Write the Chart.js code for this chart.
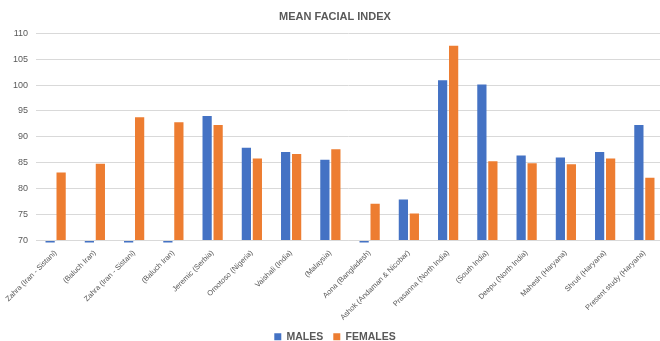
<!DOCTYPE html>
<html>
<head>
<meta charset="utf-8">
<script src="https://cdn.jsdelivr.net/npm/chart.js@4.4.1/dist/chart.umd.min.js"></script>
<style>
  html, body { margin: 0; padding: 0; background: #fff; }
  #wrap { width: 660px; height: 341px; }
</style>
</head>
<body>
<div id="wrap"><canvas id="c"></canvas></div>
<script>
// Studies compared (x categories)
const studies = [
  'Zahra (Iran - Sistani)', '(Baluch Iran)', 'Zahra (Iran - Sistani)', '(Baluch Iran)',
  'Jeremic (Serbia)', 'Omotoso (Nigeria)', 'Vaishali (India)', '(Malaysia)',
  'Aona (Bangladesh)', 'Ashok (Andaman & Nicobar)', 'Prasanna (North India)', '(South India)',
  'Deepu (North India)', 'Mahesh (Haryana)', 'Shruti (Haryana)', 'Present study (Haryana)'
];

// Mean facial index by sex (0 = not reported)
const males = [0, 0, 0, 0, 94.0, 87.9, 87.1, 85.6, 0, 77.9, 100.9, 100.1, 86.4, 86.0, 87.1, 92.3];
const females = [83.1, 84.8, 93.8, 92.8, 92.3, 85.8, 86.7, 87.6, 77.1, 75.2, 107.6, 85.3, 84.9, 84.7, 85.8, 82.1];

// Value axis range and step
const yMin = 70;
const yMax = 110;
const yStep = 5;

const grey = '#595959';
const gridGrey = '#d9d9d9';
const fontFamily = "'Liberation Sans', 'DejaVu Sans', sans-serif";

// Bars grow from the axis floor; values under it show as a thin sliver
const barClip = { left: false, right: false, top: false, bottom: 2 };

// Let the plot area run a few pixels past the right edge of the canvas
const plotOverhang = {
  id: 'plotOverhang',
  afterLayout(chart) {
    const extra = 4;
    chart.chartArea.right += extra;
    chart.chartArea.width += extra;
    const x = chart.scales.x;
    x.right += extra;
    x.width += extra;
    x.configure();
  }
};

new Chart(document.getElementById('c'), {
  type: 'bar',
  data: {
    labels: studies,
    datasets: [
      { label: 'MALES', data: males, backgroundColor: '#4472C4', base: yMin, clip: barClip },
      { label: 'FEMALES', data: females, backgroundColor: '#ED7D31', base: yMin, clip: barClip }
    ]
  },
  plugins: [plotOverhang],
  options: {
    responsive: true,
    maintainAspectRatio: false,
    animation: false,
    devicePixelRatio: 1,
    categoryPercentage: 0.56,
    barPercentage: 0.84,
    layout: { padding: { left: 10, right: 0, top: 0, bottom: -11 } },
    plugins: {
      title: {
        display: true,
        text: 'MEAN FACIAL INDEX',
        color: grey,
        font: { family: fontFamily, size: 11, weight: 'bold' },
        padding: { top: 10, bottom: 10 }
      },
      legend: {
        position: 'bottom',
        labels: {
          color: grey,
          font: { family: fontFamily, size: 10.5, weight: 'bold' },
          boxWidth: 7,
          boxHeight: 7,
          padding: 10
        }
      },
      tooltip: { enabled: false }
    },
    scales: {
      x: {
        grid: { display: false },
        border: { color: gridGrey },
        ticks: {
          color: grey,
          font: { family: fontFamily, size: 7.5 },
          autoSkip: false,
          maxRotation: 45,
          minRotation: 45,
          padding: 0
        },
        afterFit: (scale) => { scale.height = 81; }
      },
      y: {
        min: yMin,
        max: yMax,
        grid: { color: gridGrey, drawTicks: false },
        border: { display: false },
        ticks: {
          stepSize: yStep,
          color: grey,
          font: { family: fontFamily, size: 9 },
          padding: 8
        },
        afterFit: (scale) => { scale.width = 26; }
      }
    }
  }
});
</script>
</body>
</html>
